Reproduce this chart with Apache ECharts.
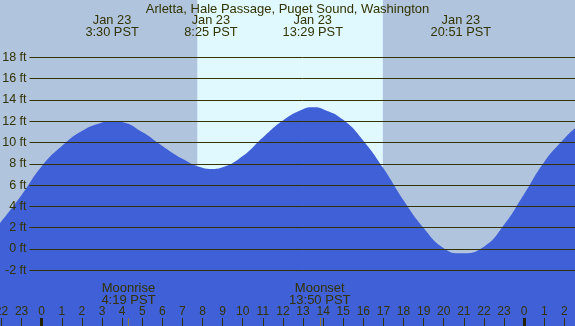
<!DOCTYPE html>
<html><head><meta charset="utf-8">
<script src="https://cdn.jsdelivr.net/npm/echarts@6/dist/echarts.min.js"></script>
<style>html,body{margin:0;padding:0;background:#b0c4de}#c{width:575px;height:326px}</style>
</head><body><div id="c"></div>
<script>
// Tide readings: hour of Jan 23 (PST, negative = Jan 22, >24 = Jan 24) and height in feet
const tideHours = [-2.075, -1, 0, 1, 2, 3, 3.5, 4, 5, 6, 7, 8, 8.45, 9, 10, 11, 12, 13, 13.5, 14, 15, 16, 17, 18, 19, 20, 20.85, 22, 23, 24, 25, 26, 26.53];
const tideFeet  = [2.45, 5.1, 7.8, 9.7, 11.1, 11.9, 12.05, 11.95, 11.0, 9.7, 8.5, 7.65, 7.54, 7.7, 8.75, 10.5, 12.1, 13.15, 13.33, 13.15, 12.15, 10.2, 7.6, 4.6, 2.0, 0.1, -0.38, 0.25, 2.3, 5.2, 8.2, 10.4, 11.36];
const hourTicks = [-2,-1,0,1,2,3,4,5,6,7,8,9,10,11,12,13,14,15,16,17,18,19,20,21,22,23,24,25,26];
const dayTicks = [0, 24];
const extremeTimes = [3.5, 8.4167, 13.4833, 20.85];
const extremeLabels = ['Jan 23\n3:30 PST', 'Jan 23\n8:25 PST', 'Jan 23\n13:29 PST', 'Jan 23\n20:51 PST'];
const moonTimes = [4.3167, 13.8333];
const moonLabels = ['Moonrise\n4:19 PST', 'Moonset\n13:50 PST'];
const daylight = [7.74, 16.97];
const titleText = 'Arletta, Hale Passage, Puget Sound, Washington';
const xMin = -2.075, xMax = 26.53, yMin = -7.2, yMax = 23.4;

const ink = '#333300';
const font = 'Liberation Sans, Arial, sans-serif';
const chart = echarts.init(document.getElementById('c'));
const baseX = {type:'value', gridIndex:0, min:xMin, max:xMax, position:'bottom', z:10,
  axisLine:{show:false, onZero:false}, splitLine:{show:false}};
chart.setOption({
  backgroundColor:'#b0c4de',
  animation:false,
  title:{text:titleText, left:'center', top:3, padding:0,
    textStyle:{fontSize:13, lineHeight:13, fontWeight:'normal', color:ink, fontFamily:font}},
  grid:[
    {left:0, right:0, top:0, bottom:0, containLabel:false, outerBoundsMode:'none'},
    {left:29.5, right:0, top:57.3, bottom:55.7, containLabel:false, outerBoundsMode:'none'}
  ],
  xAxis:[
    Object.assign({}, baseX, {
      axisTick:{show:true, inside:true, length:8, customValues:hourTicks, lineStyle:{color:ink, width:1}},
      axisLabel:{show:true, inside:true, margin:8, customValues:hourTicks, fontSize:12, lineHeight:12, color:ink, fontFamily:font,
        formatter:v => String(((Math.round(v) % 24) + 24) % 24)}
    }),
    Object.assign({}, baseX, {
      axisTick:{show:true, inside:true, length:8, customValues:dayTicks, lineStyle:{color:'#222200', width:3}},
      axisLabel:{show:false}
    }),
    Object.assign({}, baseX, {
      axisTick:{show:true, inside:true, length:8, customValues:moonTimes, lineStyle:{color:'#8c7a3c', width:1}},
      axisLabel:{show:true, inside:true, margin:20, customValues:moonTimes, fontSize:13, lineHeight:12, color:ink, fontFamily:font,
        formatter:v => moonLabels[moonTimes.indexOf(v)]}
    }),
    Object.assign({}, baseX, {position:'top',
      axisTick:{show:false},
      axisLabel:{show:true, inside:true, margin:14, customValues:extremeTimes, fontSize:12.8, lineHeight:12.5, color:ink, fontFamily:font,
        formatter:v => extremeLabels[extremeTimes.indexOf(v)]}
    }),
    {type:'value', gridIndex:1, min:0, max:1, show:false}
  ],
  yAxis:[
    {type:'value', gridIndex:0, min:yMin, max:yMax, show:false},
    {type:'value', gridIndex:1, min:-2, max:18, interval:2, z:10,
      axisLine:{show:false}, axisTick:{show:false},
      axisLabel:{margin:3, fontSize:12.5, color:ink, fontFamily:font, formatter:v => v + ' ft'},
      splitLine:{show:true, lineStyle:{color:ink, width:1}}}
  ],
  series:[
    {type:'line', xAxisIndex:0, yAxisIndex:0, data:[], z:1, silent:true,
      markArea:{silent:true, itemStyle:{color:'#e0f8ff', opacity:1},
        data:[[{xAxis:daylight[0]},{xAxis:daylight[1]}]]}},
    {type:'line', xAxisIndex:0, yAxisIndex:0, z:2, smooth:true, showSymbol:false, silent:true,
      data: tideHours.map((h,i) => [h, tideFeet[i]]),
      lineStyle:{width:0, color:'#4060d8'},
      areaStyle:{color:'#4060d8', opacity:1, origin:'start'}}
  ]
});
</script></body></html>
